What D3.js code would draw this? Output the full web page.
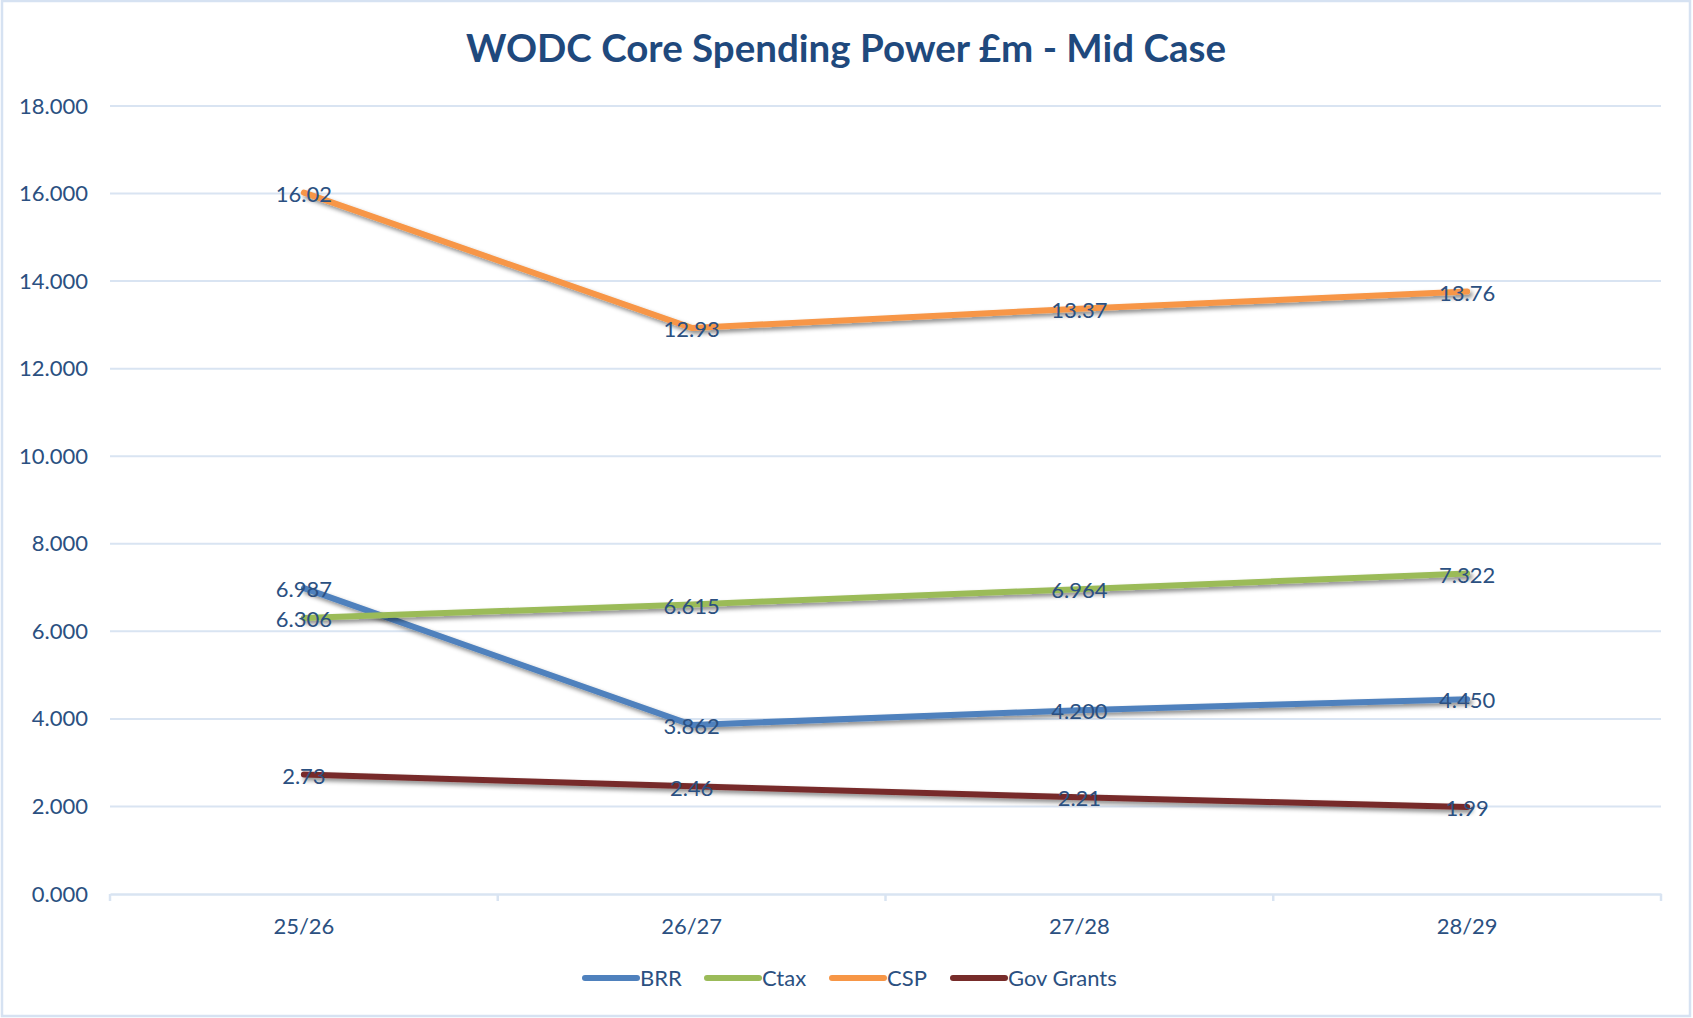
<!DOCTYPE html>
<html>
<head>
<meta charset="utf-8">
<script src="https://cdn.jsdelivr.net/npm/d3@7"></script>
<style>
  html, body { margin: 0; padding: 0; background: #fff; }
  svg { display: block; }
</style>
</head>
<body>
<svg id="chart" width="1693" height="1018"></svg>
<script>
// chart data
const categories = ["25/26", "26/27", "27/28", "28/29"];
const seriesNames = ["BRR", "Ctax", "CSP", "Gov Grants"];
const brrValues = [6.987, 3.862, 4.200, 4.450];
const ctaxValues = [6.306, 6.615, 6.964, 7.322];
const cspValues = [16.02, 12.93, 13.37, 13.76];
const govGrantsValues = [2.73, 2.46, 2.21, 1.99];
const yTicks = [0, 2, 4, 6, 8, 10, 12, 14, 16, 18];

const seriesColors = ["#4F81BD", "#9BBB59", "#F79646", "#772C2A"];
const labelDecimals = [3, 3, 2, 2];

function buildSpendingPowerChart(svgid) {
  const svg = d3.select(svgid);
  const width = 1693;
  const height = 1018;
  const margin = { top: 106, right: 32, bottom: 124, left: 110 };
  const font = "Lato, 'Open Sans', sans-serif";
  const textColor = "#2B5081";

  const series = [brrValues, ctaxValues, cspValues, govGrantsValues].map((vals, i) => ({
    name: seriesNames[i],
    color: seriesColors[i],
    fmt: d3.format("." + labelDecimals[i] + "f"),
    values: vals.map((v, j) => ({ cat: categories[j], value: v }))
  }));

  // outer border
  svg.append("rect")
    .attr("x", 2).attr("y", 1)
    .attr("width", width - 5).attr("height", height - 3)
    .attr("fill", "#fff")
    .attr("stroke", "#D6E2F2")
    .attr("stroke-width", 2.5);

  // drop shadow for the lines
  const defs = svg.append("defs");
  const filter = defs.append("filter")
    .attr("id", "lineShadow")
    .attr("x", "-10%").attr("y", "-50%")
    .attr("width", "120%").attr("height", "200%");
  filter.append("feDropShadow")
    .attr("dx", 2.5).attr("dy", 3)
    .attr("stdDeviation", 2)
    .attr("flood-color", "#000")
    .attr("flood-opacity", 0.45);

  const xScale = d3.scaleBand()
    .domain(categories)
    .range([margin.left, width - margin.right]);

  const yScale = d3.scaleLinear()
    .domain([0, 18])
    .range([height - margin.bottom, margin.top]);

  // Title
  svg.append("text")
    .attr("x", 846)
    .attr("y", 62)
    .attr("text-anchor", "middle")
    .style("font-family", font)
    .style("font-weight", "bold")
    .style("font-size", "38.5px")
    .style("fill", "#1F497D")
    .text("WODC Core Spending Power £m - Mid Case");

  // gridlines
  svg.append("g")
    .selectAll("line")
    .data(yTicks.filter(d => d > 0))
    .enter().append("line")
    .attr("x1", margin.left)
    .attr("x2", width - margin.right)
    .attr("y1", d => yScale(d))
    .attr("y2", d => yScale(d))
    .attr("stroke", "#D9E4F2")
    .attr("stroke-width", 2);

  // Y-axis
  const yAxis = svg.append("g")
    .attr("transform", `translate(${margin.left},0)`)
    .call(d3.axisLeft(yScale).tickValues(yTicks).tickFormat(d3.format(".3f")).tickSize(0).tickPadding(22));
  yAxis.select(".domain").remove();
  yAxis.selectAll("text")
    .style("font-family", font)
    .style("font-size", "22px")
    .style("fill", textColor);

  // X-axis
  const xAxis = svg.append("g")
    .attr("transform", `translate(0,${height - margin.bottom})`)
    .call(d3.axisBottom(xScale).tickSize(0).tickPadding(24));
  xAxis.select(".domain")
    .attr("stroke", "#D9E4F2")
    .attr("stroke-width", 2.5);
  xAxis.selectAll("text")
    .style("font-family", font)
    .style("font-size", "22px")
    .style("fill", textColor);

  // tick marks at category boundaries
  const boundaries = categories.map(c => xScale(c)).concat([xScale.range()[1]]);
  svg.append("g")
    .selectAll("line")
    .data(boundaries)
    .enter().append("line")
    .attr("x1", d => d).attr("x2", d => d)
    .attr("y1", height - margin.bottom)
    .attr("y2", height - margin.bottom + 7)
    .attr("stroke", "#D9E4F2")
    .attr("stroke-width", 2.5);

  const line = d3.line()
    .x(d => xScale(d.cat) + xScale.bandwidth() / 2)
    .y(d => yScale(d.value));

  // lines
  svg.append("g")
    .selectAll("path")
    .data(series)
    .enter().append("path")
    .attr("d", d => line(d.values))
    .attr("fill", "none")
    .attr("stroke", d => d.color)
    .attr("stroke-width", 6)
    .attr("stroke-linejoin", "round")
    .attr("stroke-linecap", "round")
    .attr("filter", "url(#lineShadow)");

  // data labels, centred on the points
  series.forEach(s => {
    svg.append("g")
      .selectAll("text")
      .data(s.values)
      .enter().append("text")
      .attr("x", d => xScale(d.cat) + xScale.bandwidth() / 2)
      .attr("y", d => yScale(d.value))
      .attr("dy", "0.42em")
      .attr("text-anchor", "middle")
      .style("font-family", font)
      .style("font-size", "22px")
      .style("fill", textColor)
      .text(d => s.fmt(d.value));
  });

  // Legend
  const legendX = [583, 705, 830, 951];
  const legend = svg.append("g").attr("transform", "translate(0,978)");
  const items = legend.selectAll("g")
    .data(series)
    .enter().append("g")
    .attr("transform", (d, i) => `translate(${legendX[i]},0)`);
  items.append("line")
    .attr("x1", 2).attr("x2", 54)
    .attr("y1", 0).attr("y2", 0)
    .attr("stroke", d => d.color)
    .attr("stroke-width", 6)
    .attr("stroke-linecap", "round");
  items.append("text")
    .attr("x", 57)
    .attr("y", 0)
    .attr("dy", "0.36em")
    .style("font-family", font)
    .style("font-size", "22px")
    .style("fill", textColor)
    .text(d => d.name);
}

buildSpendingPowerChart("#chart");
</script>
</body>
</html>
